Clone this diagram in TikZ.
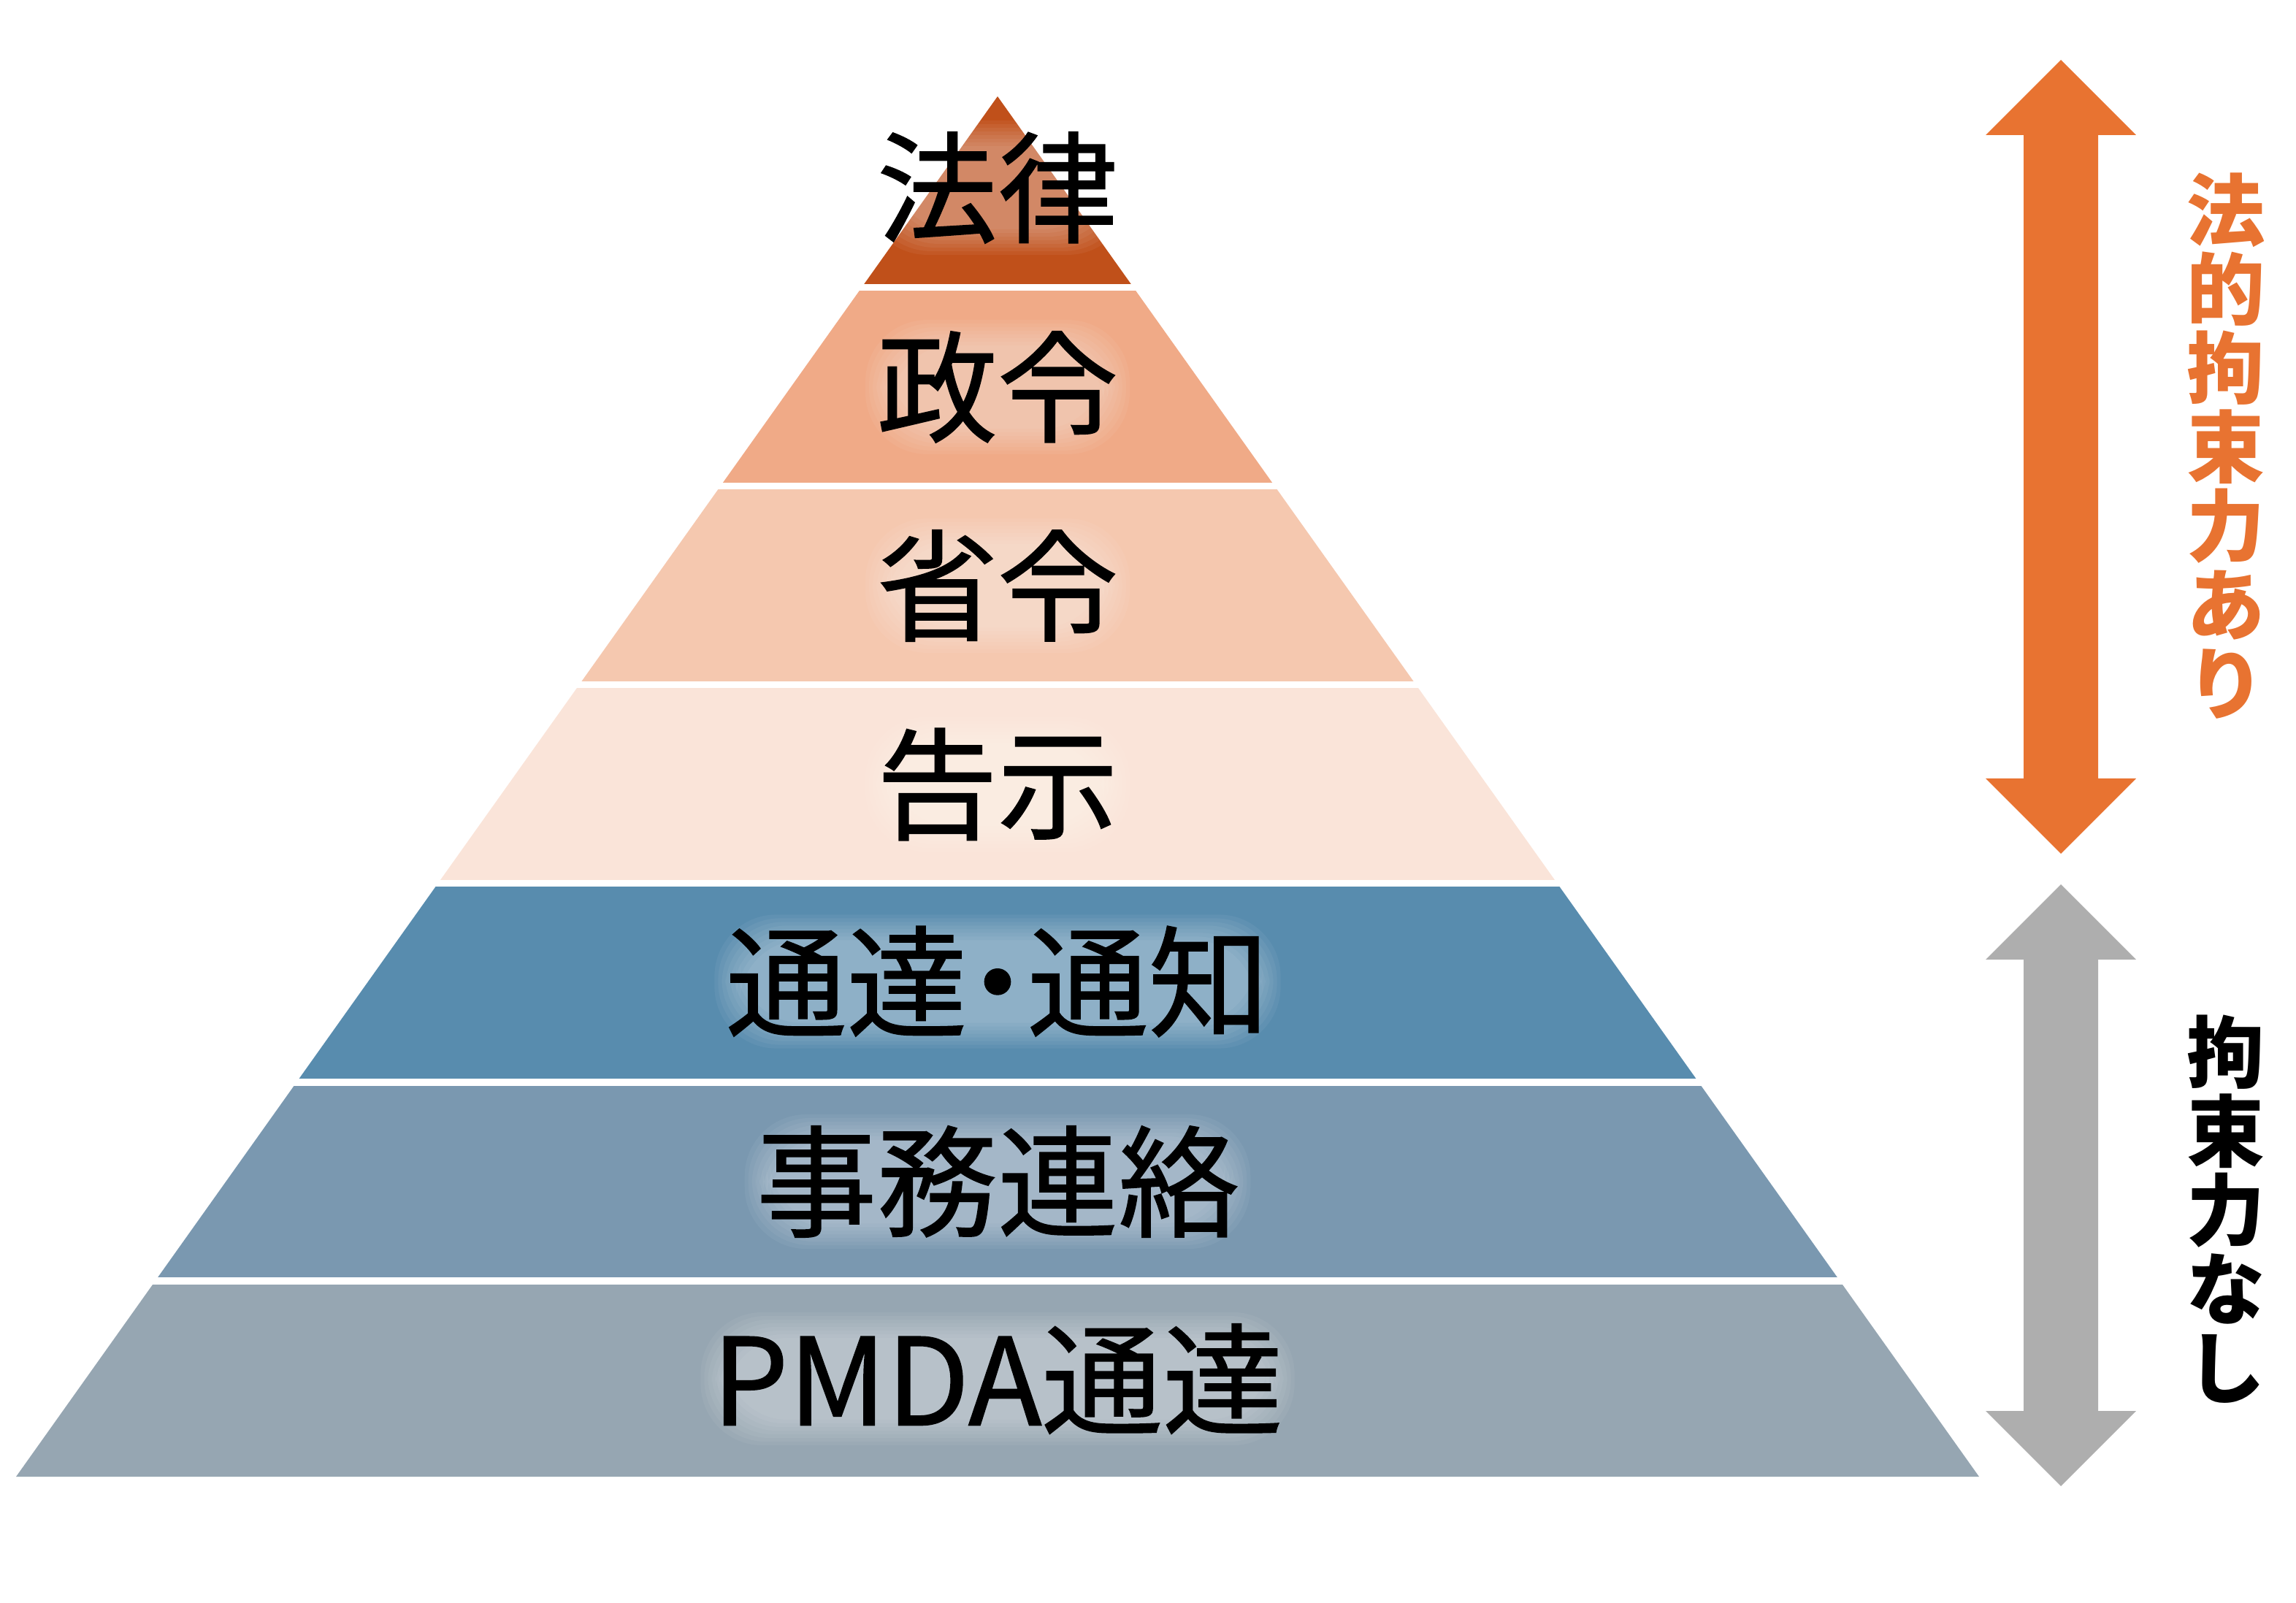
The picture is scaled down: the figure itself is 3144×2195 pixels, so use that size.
\documentclass[tikz,border=0pt]{standalone}
\usepackage{fontspec}
\newfontfamily\jp{Noto Sans CJK JP}
\newfontfamily\jpheavy[FakeBold=1]{Noto Sans CJK JP}
\usetikzlibrary{calc}

\definecolor{lawred}{HTML}{C0501A}
\definecolor{cabinet}{HTML}{F0AA87}
\definecolor{ministry}{HTML}{F5C8AF}
\definecolor{notice}{HTML}{FAE4D9}
\definecolor{circular}{HTML}{588CAE}
\definecolor{liaison}{HTML}{7A98B0}
\definecolor{pmdablue}{HTML}{96A6B2}
\definecolor{bindorange}{HTML}{E87331}
\definecolor{bindgray}{HTML}{AEAEAE}

\pgfdeclarelayer{back}
\pgfdeclarelayer{halo}
\pgfsetlayers{back,halo,main}

\tikzset{
  level/.style={font=\jpheavy\fontsize{47pt}{52pt}\selectfont, inner sep=0pt},
  side/.style={font=\jp\bfseries\fontsize{30.5pt}{30.7pt}\selectfont, align=center, inner sep=0pt},
}

\begin{document}
\begin{tikzpicture}[x=0.01cm,y=-0.01cm]
    \useasboundingbox (0,0) rectangle (3144,2195);
    % pyramid levels
    \foreach \yt/\yb/\ym/\col/\name/\txt in {
        132/394/257/lawred/law/法律,
        394/666/530/cabinet/cabinet/政令,
        666/938/802/ministry/ministry/省令,
        938/1210/1074/notice/notice/告示,
        1210/1482/1344/circular/circular/{通達\kern-.25em・\kern-.25em通知},
        1482/1754/1618/liaison/liaison/事務連絡,
        1754/2022/1888/pmdablue/pmda/PMDA通達}{
        \pgfmathsetmacro\wt{0.7111*(\yt-132)}
        \pgfmathsetmacro\wb{0.7111*(\yb-132)}
        \begin{pgfonlayer}{back}
            \fill[\col] (1366-\wt,\yt) -- (1366+\wt,\yt) -- (1366+\wb,\yb) -- (1366-\wb,\yb) -- cycle;
        \end{pgfonlayer}
        \node[level] (\name) at (1366,\ym) {\txt};
        \begin{pgfonlayer}{halo}
            \foreach \k in {-4,...,3}
                \fill[white, opacity=0.05, rounded corners=24pt] ($(\name.south west)+(-\k*5,\k*5)$) rectangle ($(\name.north east)+(\k*5,-\k*5)$);
        \end{pgfonlayer}
    }
    % white gaps between levels
    \begin{pgfonlayer}{back}
        \foreach \y in {394,666,938,1210,1482,1754}
            \draw[white, line width=0.09cm] (0,\y) -- (2720,\y);
    \end{pgfonlayer}
    % arrows
    \foreach \ya/\yb/\col in {82/1169/bindorange, 1211/2035/bindgray}
        \fill[\col] (2822,\ya) -- (2925,\ya+103) -- (2873,\ya+103) -- (2873,\yb-103) -- (2925,\yb-103)
            -- (2822,\yb) -- (2719,\yb-103) -- (2771,\yb-103) -- (2771,\ya+103) -- (2719,\ya+103) -- cycle;
    \node[side, text=bindorange] (binding) at (3048,611) {法\\的\\拘\\束\\力\\あ\\り};
    \node[side] (nonbinding) at (3048,1656) {拘\\束\\力\\な\\し};
\end{tikzpicture}
\end{document}
